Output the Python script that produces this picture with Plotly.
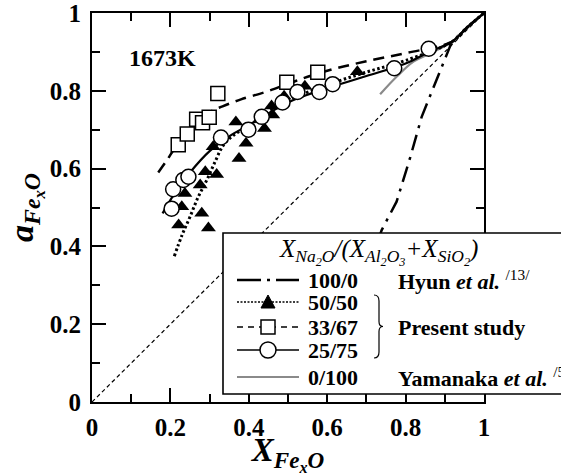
import plotly.graph_objects as go

# ---------------- data ----------------
raoult_x = [0.0, 1.0]
raoult_y = [0.0, 1.0]

hyun_x = [0.70, 0.739, 0.777, 0.811, 0.841, 0.883, 0.918, 0.956, 1.0]
hyun_y = [0.33, 0.442, 0.515, 0.626, 0.733, 0.840, 0.926, 0.962, 1.0]

yam_x = [0.735, 0.777, 0.820, 0.862, 0.918, 0.956, 1.0]
yam_y = [0.791, 0.836, 0.875, 0.896, 0.926, 0.962, 1.0]

c33_x = [0.169, 0.19, 0.22, 0.26, 0.30, 0.333, 0.38, 0.446, 0.50, 0.55, 0.62, 0.70, 0.80, 0.918, 0.956, 1.0]
c33_y = [0.590, 0.620, 0.665, 0.710, 0.745, 0.760, 0.778, 0.798, 0.818, 0.836, 0.857, 0.876, 0.897, 0.926, 0.962, 1.0]

c50_x = [0.21, 0.23, 0.25, 0.27, 0.293, 0.315, 0.335, 0.36, 0.40, 0.45, 0.50, 0.60, 0.70, 0.80, 0.918, 0.956, 1.0]
c50_y = [0.375, 0.430, 0.476, 0.525, 0.571, 0.620, 0.660, 0.685, 0.710, 0.745, 0.775, 0.815, 0.848, 0.878, 0.926, 0.962, 1.0]

c25_x = [0.18, 0.21, 0.25, 0.30, 0.35, 0.40, 0.45, 0.50, 0.55, 0.60, 0.70, 0.80, 0.86, 0.918, 0.956, 1.0]
c25_y = [0.485, 0.535, 0.590, 0.645, 0.683, 0.712, 0.742, 0.770, 0.790, 0.807, 0.838, 0.870, 0.900, 0.926, 0.962, 1.0]

tri_x = [0.221, 0.229, 0.237, 0.276, 0.289, 0.280, 0.297, 0.318, 0.309, 0.375, 0.393, 0.367, 0.440, 0.461, 0.458, 0.490, 0.543, 0.677]
tri_y = [0.455, 0.502, 0.536, 0.558, 0.592, 0.485, 0.447, 0.585, 0.656, 0.626, 0.665, 0.720, 0.703, 0.738, 0.761, 0.786, 0.812, 0.849]

sq_x = [0.220, 0.243, 0.267, 0.282, 0.299, 0.321, 0.497, 0.576]
sq_y = [0.661, 0.689, 0.727, 0.718, 0.732, 0.793, 0.822, 0.848]

circ_x = [0.203, 0.207, 0.233, 0.246, 0.329, 0.399, 0.433, 0.486, 0.524, 0.580, 0.614, 0.771, 0.859]
circ_y = [0.497, 0.547, 0.571, 0.579, 0.680, 0.700, 0.733, 0.770, 0.797, 0.797, 0.817, 0.858, 0.908]

tick_vals = [0, 0.2, 0.4, 0.6, 0.8, 1]
tick_text = ["0", "0.2", "0.4", "0.6", "0.8", "1"]

legend_ratios = ["100/0", "50/50", "33/67", "25/75", "0/100"]
legend_sources = ["Hyun <i>et al.</i> <span style='font-weight:normal'><sup>/13/</sup></span>",
                  "Present study",
                  "Yamanaka <i>et al.</i> <span style='font-weight:normal'><sup>/5/</sup></span>"]

SERIF = "Liberation Serif"

# ---------------- figure ----------------
fig = go.Figure()

fig.add_trace(go.Scatter(x=raoult_x, y=raoult_y, mode="lines",
                         line=dict(color="black", width=1.2, dash="4px,3px"), showlegend=False))
fig.add_trace(go.Scatter(x=hyun_x, y=hyun_y, mode="lines",
                         line=dict(color="black", width=2.5, dash="16px,7px,3px,7px"), showlegend=False))
fig.add_trace(go.Scatter(x=yam_x, y=yam_y, mode="lines", line_shape="spline",
                         line=dict(color="#8a8a8a", width=2.2), showlegend=False))
fig.add_trace(go.Scatter(x=c33_x, y=c33_y, mode="lines", line_shape="spline",
                         line=dict(color="black", width=2.5, dash="11px,7px"), showlegend=False))
fig.add_trace(go.Scatter(x=c50_x, y=c50_y, mode="lines", line_shape="spline",
                         line=dict(color="black", width=3, dash="2.5px,2.5px"), showlegend=False))
fig.add_trace(go.Scatter(x=c25_x, y=c25_y, mode="lines", line_shape="spline",
                         line=dict(color="black", width=2.2), showlegend=False))

fig.add_trace(go.Scatter(x=tri_x, y=tri_y, mode="markers",
                         marker=dict(symbol="triangle-up", size=13, color="black"), showlegend=False))
fig.add_trace(go.Scatter(x=sq_x, y=sq_y, mode="markers",
                         marker=dict(symbol="square", size=14, color="white",
                                     line=dict(color="black", width=1.5)), showlegend=False))
fig.add_trace(go.Scatter(x=circ_x, y=circ_y, mode="markers",
                         marker=dict(symbol="circle", size=15, color="white",
                                     line=dict(color="black", width=1.5)), showlegend=False))

# ---------------- layout ----------------
L, R, T, B = 92, 77, 13, 74
W, H = 561, 476
PW, PH = W - L - R, H - T - B


def px(xp):
    return (xp - L) / PW


def py(yp):
    return (H - B - yp) / PH


axis_common = dict(
    range=[0, 1], showgrid=False, zeroline=False, showline=True, linecolor="black", linewidth=2,
    mirror="allticks", ticks="inside", ticklen=14, tickwidth=1.6, tickcolor="black",
    tickvals=tick_vals, ticktext=tick_text, ticklabeloverflow="allow",
    tickfont=dict(family=SERIF, size=25, color="black", weight="bold"),
    minor=dict(dtick=0.1, ticks="inside", ticklen=8, tickwidth=1.6, tickcolor="black"),
)

fig.update_layout(
    width=W, height=H,
    margin=dict(l=L, r=R, t=T, b=B, autoexpand=False),
    plot_bgcolor="white", paper_bgcolor="white",
    showlegend=False,
    font=dict(family=SERIF, color="black"),
)
fig.update_xaxes(**axis_common, ticklabelstandoff=2,
                 title=dict(text="<b><i>X<sub>Fe<sub>x</sub>O</sub></i></b>",
                            font=dict(family=SERIF, size=33, color="black"), standoff=7))
fig.update_yaxes(**axis_common, ticklabelstandoff=4,
                 title=dict(text="<b><i>a<sub>Fe<sub>x</sub>O</sub></i></b>",
                            font=dict(family=SERIF, size=34, color="black"), standoff=6))

# label 1673K
fig.add_annotation(x=0.179, y=0.885, xref="x", yref="y", text="<b>1673K</b>", showarrow=False,
                   font=dict(family=SERIF, size=24, color="black"))

# ---------------- custom legend ----------------
shapes = []
shapes.append(dict(type="rect", xref="paper", yref="paper", x0=px(223), x1=px(620), y0=py(394), y1=py(233),
                   fillcolor="white", line=dict(color="black", width=1.6), layer="above"))

row_py = [280, 302, 327, 350, 377]
lx0, lx1 = px(237), px(299)

# row 1: dash-dot
shapes.append(dict(type="line", xref="paper", yref="paper", x0=lx0, x1=lx1, y0=py(row_py[0]), y1=py(row_py[0]),
                   line=dict(color="black", width=2.5, dash="24px,6px,3px,6px"), layer="above"))
# row 2: dotted + triangle
shapes.append(dict(type="line", xref="paper", yref="paper", x0=lx0, x1=lx1, y0=py(row_py[1]), y1=py(row_py[1]),
                   line=dict(color="black", width=1.3, dash="2px,1.5px"), layer="above"))
tx, ty = 268, row_py[1]
shapes.append(dict(type="path", xref="paper", yref="paper",
                   path=f"M {px(tx-7)} {py(ty+6)} L {px(tx+7)} {py(ty+6)} L {px(tx)} {py(ty-7)} Z",
                   fillcolor="black", line=dict(color="black", width=1), layer="above"))
# row 3: dashed + square
shapes.append(dict(type="line", xref="paper", yref="paper", x0=lx0, x1=lx1, y0=py(row_py[2]), y1=py(row_py[2]),
                   line=dict(color="black", width=1.6, dash="6px,5px"), layer="above"))
shapes.append(dict(type="rect", xref="paper", yref="paper", x0=px(268-7), x1=px(268+7),
                   y0=py(row_py[2]+7), y1=py(row_py[2]-7),
                   fillcolor="white", line=dict(color="black", width=1.5), layer="above"))
# row 4: solid + circle
shapes.append(dict(type="line", xref="paper", yref="paper", x0=lx0, x1=lx1, y0=py(row_py[3]), y1=py(row_py[3]),
                   line=dict(color="black", width=1.6), layer="above"))
shapes.append(dict(type="circle", xref="paper", yref="paper", x0=px(268-8), x1=px(268+8),
                   y0=py(row_py[3]+8), y1=py(row_py[3]-8),
                   fillcolor="white", line=dict(color="black", width=1.5), layer="above"))
# row 5: gray line
shapes.append(dict(type="line", xref="paper", yref="paper", x0=lx0, x1=lx1, y0=py(row_py[4]), y1=py(row_py[4]),
                   line=dict(color="#8a8a8a", width=2), layer="above"))
# brace
bx0, bx1, bxt = 374, 379, 383
byt, byb, bym = 295, 358, 326.5
brace = (f"M {px(bx0)} {py(byt)} Q {px(bx1)} {py(byt)} {px(bx1)} {py(byt+6)} "
         f"L {px(bx1)} {py(bym-5)} Q {px(bx1)} {py(bym)} {px(bxt)} {py(bym)} "
         f"Q {px(bx1)} {py(bym)} {px(bx1)} {py(bym+5)} "
         f"L {px(bx1)} {py(byb-6)} Q {px(bx1)} {py(byb)} {px(bx0)} {py(byb)}")
shapes.append(dict(type="path", xref="paper", yref="paper", path=brace,
                   line=dict(color="black", width=1.2), layer="above"))

fig.update_layout(shapes=shapes)

fig.add_annotation(xref="paper", yref="paper", x=px(378), y=py(252), xanchor="center", yanchor="middle",
                   text="<i>X<sub>Na<sub>2</sub>O</sub>/(X<sub>Al<sub>2</sub>O<sub>3</sub></sub>+X<sub>SiO<sub>2</sub></sub>)</i>",
                   showarrow=False, font=dict(family=SERIF, size=25, color="black"))
for r, ypix in zip(legend_ratios, row_py):
    fig.add_annotation(xref="paper", yref="paper", x=px(306), y=py(ypix), xanchor="left", yanchor="middle",
                       text=f"<b>{r}</b>", showarrow=False, font=dict(family=SERIF, size=22, color="black"))
for s, ypix in zip(legend_sources, [row_py[0], row_py[2], row_py[4]]):
    fig.add_annotation(xref="paper", yref="paper", x=px(396), y=py(ypix), xanchor="left", yanchor="middle",
                       text=f"<b>{s}</b>", showarrow=False, font=dict(family=SERIF, size=22, color="black"))

fig.write_html("out.html", config={"displayModeBar": False},
               post_script="document.body.style.margin='0';document.body.style.overflow='hidden';")
